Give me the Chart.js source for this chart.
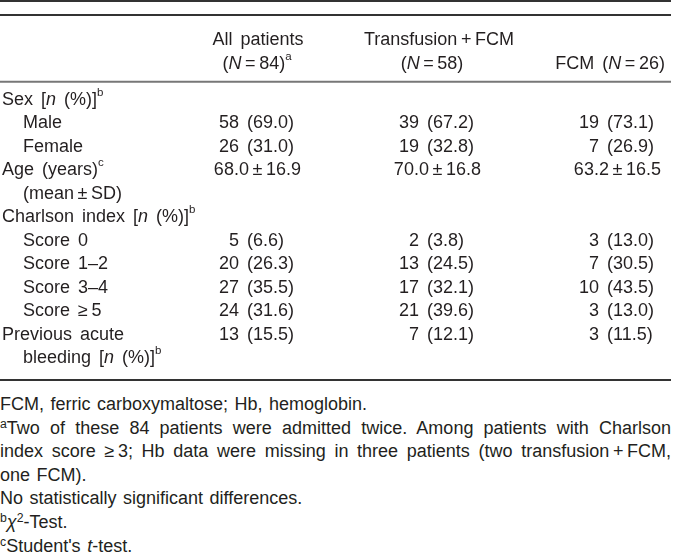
<!DOCTYPE html>
<html>
<head>
<meta charset="utf-8">
<script src="https://cdn.jsdelivr.net/npm/chart.js@4.4.1/dist/chart.umd.min.js"></script>
<style>
  html, body { margin: 0; padding: 0; background: #fff; }
  #wrap { position: relative; width: 677px; height: 553px; overflow: hidden; }
  #tbl-box { position: absolute; left: 0; top: 0; width: 677px; height: 390px; }
  #notes { position: absolute; left: 0; top: 393px; width: 671px;
    font-family: "Liberation Sans", Arial, sans-serif; font-size: 18px; line-height: 23.6px;
    word-spacing: 1.5px; color: #231f20; }
  #notes .j { text-align: justify; text-align-last: justify; }
  #notes sup { font-size: 0.68em; line-height: 0; vertical-align: 0.5em; }
</style>
</head>
<body>
<div id="wrap">
  <div id="tbl-box"><canvas id="tbl"></canvas></div>
  <div id="notes"></div>
</div>
<script>
// columns (groups) and header text
const groups = ['All patients', 'Transfusion + FCM', 'FCM'];
const headLine1 = ['All patients', 'Transfusion\u2009+\u2009FCM', ''];
const headLine2 = ['(*N*\u2009=\u200984)^a', '(*N*\u2009=\u200958)', 'FCM (*N*\u2009=\u200926)'];

// rows: '*x*' = italic, '^x' = superscript
const rowLabels = ['Sex [*n* (%)]^b', 'Male', 'Female', 'Age (years)^c', '(mean\u2009\u00b1\u2009SD)',
  'Charlson index [*n* (%)]^b', 'Score 0', 'Score 1\u20132', 'Score 3\u20134', 'Score \u2265\u20095',
  'Previous acute', 'bleeding [*n* (%)]^b'];
const rowIndent = [0, 1, 1, 0, 1, 0, 1, 1, 1, 1, 0, 1];

// n (%) rows
const countRows = [1, 2, 6, 7, 8, 9, 10];
const allCounts = [58, 26, 5, 20, 27, 24, 13];
const allPct    = [69.0, 31.0, 6.6, 26.3, 35.5, 31.6, 15.5];
const tfCounts  = [39, 19, 2, 13, 17, 21, 7];
const tfPct     = [67.2, 32.8, 3.8, 24.5, 32.1, 39.6, 12.1];
const fcmCounts = [19, 7, 3, 7, 10, 3, 3];
const fcmPct    = [73.1, 26.9, 13.0, 30.5, 43.5, 13.0, 11.5];

// age row (mean ± SD)
const ageRow = 3;
const ageMean = [68.0, 70.0, 63.2];
const ageSD   = [16.9, 16.8, 16.5];

const footnotes = [
  'FCM, ferric carboxymaltose; Hb, hemoglobin.',
  '<sup>a</sup>Two of these 84 patients were admitted twice. Among patients with Charlson',
  'index score \u2265\u20093; Hb data were missing in three patients (two transfusion\u2009+\u2009FCM,',
  'one FCM).',
  'No statistically significant differences.',
  '<sup>b</sup><i>\u03c7</i><sup>2</sup>-Test.',
  '<sup>c</sup>Student\'s <i>t</i>-test.'
];
const justified = [false, true, true, false, false, false, false];

document.getElementById('notes').innerHTML = footnotes
  .map((t, i) => `<div${justified[i] ? ' class="j"' : ''}>${t}</div>`).join('');

const TXT = '#231f20';
const FS = 18;
const WS = 3;   // extra word spacing, as in the typeset table
const FAM = '"Liberation Sans", Arial, sans-serif';

function parseRich(s) {
  const segs = []; let it = false; let cur = '';
  for (let i = 0; i < s.length; i++) {
    const c = s[i];
    if (c === '*') { if (cur) segs.push({ t: cur, it }); cur = ''; it = !it; }
    else if (c === '^') { if (cur) segs.push({ t: cur, it }); cur = ''; segs.push({ t: s[i + 1], sup: true }); i++; }
    else cur += c;
  }
  if (cur) segs.push({ t: cur, it });
  return segs;
}

function drawRich(ctx, s, x, y, align) {
  const segs = parseRich(s);
  let w = 0;
  segs.forEach(g => {
    g.font = `${g.it ? 'italic ' : ''}${g.sup ? FS * 0.64 : FS}px ${FAM}`;
    ctx.font = g.font;
    g.parts = g.t.split(/(?<=[ \u00a0])/);
    g.w = 0;
    g.parts.forEach(p => { g.w += ctx.measureText(p).width + (/[ \u00a0]$/.test(p) ? WS : 0); });
    w += g.w;
  });
  let cx = align === 'right' ? x - w : align === 'center' ? x - w / 2 : x;
  ctx.textAlign = 'left'; ctx.textBaseline = 'middle';
  segs.forEach(g => {
    ctx.font = g.font;
    g.parts.forEach(p => {
      ctx.fillText(p, cx, g.sup ? y - FS * 0.42 : y);
      cx += ctx.measureText(p).width + (/[ \u00a0]$/.test(p) ? WS : 0);
    });
  });
}

// cells per group: built from the arrays above
const counts = [allCounts, tfCounts, fcmCounts];
const pcts = [allPct, tfPct, fcmPct];
const cellRows = countRows.concat([ageRow]);

const datasets = groups.map(g => ({
  label: g,
  data: cellRows.map(r => ({ x: g, y: rowLabels[r] })),
  pointRadius: 0,
  showLine: false
}));

// header offsets from each column's "(" position
const head1Dx = [11, 12];
const head2Dx = [10, 5, 58];

const tablePlugin = {
  id: 'tableText',
  afterDatasetsDraw(chart) {
    const ctx = chart.ctx;
    const ys = chart.scales.y, xs = chart.scales.x;
    const area = chart.chartArea;
    const pitch = ys.getPixelForValue(1) - ys.getPixelForValue(0);
    ctx.save();
    ctx.fillStyle = TXT;

    // rules
    const rule = (y, lw, col) => {
      ctx.strokeStyle = col; ctx.lineWidth = lw;
      ctx.beginPath(); ctx.moveTo(0, y); ctx.lineTo(chart.width - 6, y); ctx.stroke();
    };
    rule(area.top - 4.22 * pitch, 2, '#333');
    rule(area.top - 3.62 * pitch, 2, '#333');
    rule(area.top - 0.78 * pitch, 2, '#777');
    rule(area.bottom + 0.94 * pitch, 2, '#333');

    // header
    groups.forEach((g, gi) => {
      const px = xs.getPixelForValue(gi);
      if (gi < 2) {
        drawRich(ctx, headLine1[gi], px + head1Dx[gi], area.top - 2.55 * pitch, 'center');
        drawRich(ctx, headLine2[gi], px + head2Dx[gi], area.top - 1.52 * pitch, 'center');
      } else {
        drawRich(ctx, headLine2[gi], px + head2Dx[gi], area.top - 1.52 * pitch, 'right');
      }
    });

    // row labels
    rowLabels.forEach((lab, i) => {
      drawRich(ctx, lab, 2 + rowIndent[i] * 21, ys.getPixelForValue(i), 'left');
    });

    // cells
    ctx.font = `${FS}px ${FAM}`;
    const pctW = ctx.measureText('(00.0)').width;
    datasets.forEach((ds, gi) => {
      const meta = chart.getDatasetMeta(gi);
      meta.data.forEach((pt, k) => {
        const r = cellRows[k];
        if (r === ageRow) {
          drawRich(ctx, `${ageMean[gi].toFixed(1)}\u2009\u00b1\u2009${ageSD[gi].toFixed(1)}`, pt.x + pctW + 7, pt.y, 'right');
        } else {
          drawRich(ctx, `${counts[gi][k]}\u00a0`, pt.x, pt.y, 'right');
          drawRich(ctx, `(${pcts[gi][k].toFixed(1)})`, pt.x, pt.y, 'left');
        }
      });
    });
    ctx.restore();
  }
};

new Chart(document.getElementById('tbl'), {
  type: 'scatter',
  data: { datasets },
  options: {
    responsive: true,
    maintainAspectRatio: false,
    animation: false,
    events: [],
    layout: { padding: { left: 247, right: 70, top: 100, bottom: 32 } },
    plugins: { legend: { display: false }, tooltip: { enabled: false } },
    scales: {
      x: { type: 'category', labels: groups, offset: false, display: false },
      y: { type: 'category', labels: rowLabels, offset: false, display: false }
    }
  },
  plugins: [tablePlugin]
});
</script>
</body>
</html>
